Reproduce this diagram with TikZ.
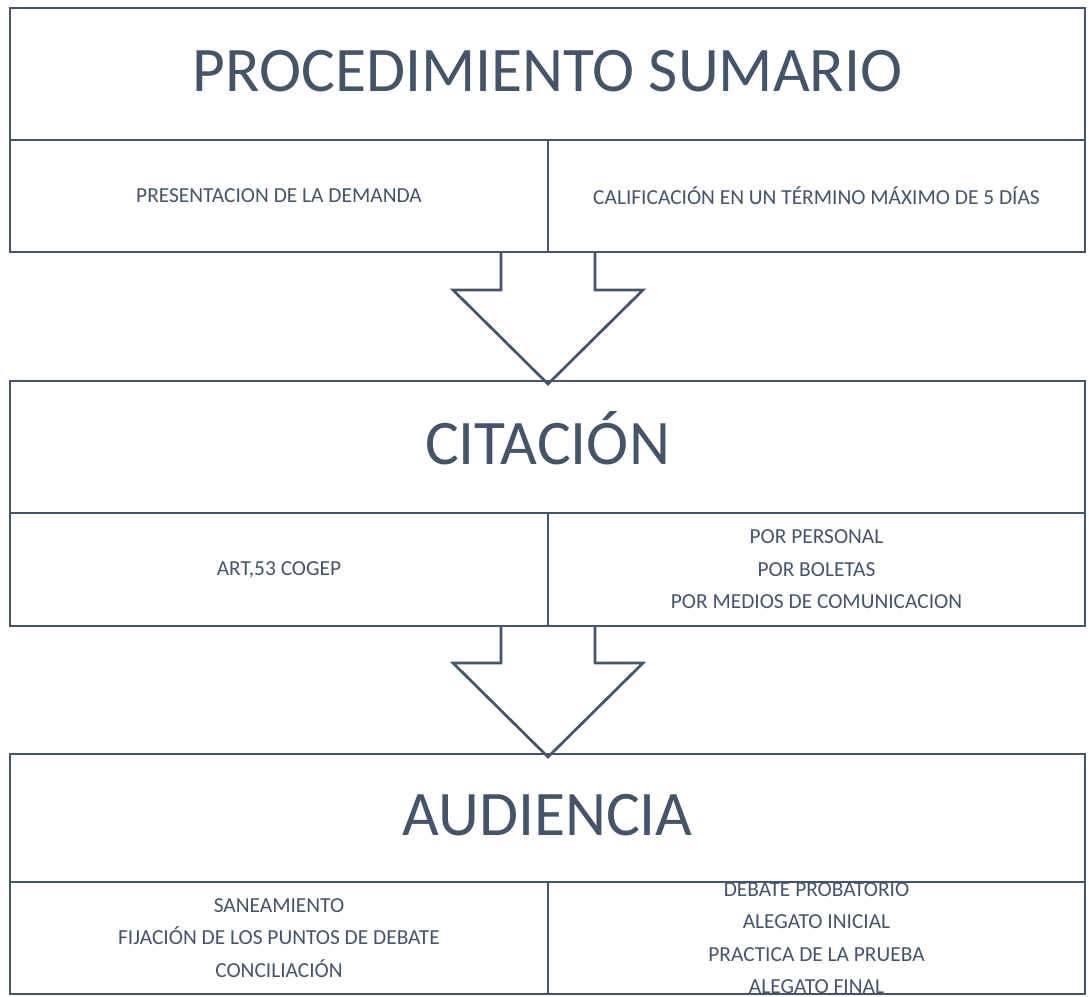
\documentclass[tikz,border=0pt]{standalone}
\usepackage{fontspec}
\setmainfont{Carlito}
\usetikzlibrary{calc}
\definecolor{slate}{HTML}{44546A}
\tikzset{
  cellshape/.style={rectangle, inner sep=0pt, outer sep=0pt, text=slate},
  cell/.style={cellshape, draw=slate, line width=2.7pt},
  titlecell/.style={cell, font=\fontsize{63.5}{76}\selectfont, text height=40pt, text depth=5pt},
  smallcell/.style={cell, font=\fontsize{21.4}{32.5}\selectfont, align=center},
  smalltext/.style={text=slate, font=\fontsize{21.4}{32.5}\selectfont, align=center, inner sep=0pt},
  blockarrow/.style={draw=slate, line width=2.7pt, line join=miter},
}
\begin{document}
\begin{tikzpicture}[x=1pt,y=-1pt]
\useasboundingbox (0,0) rectangle (1089,996);

% ---------- arrows (drawn first, boxes on top) ----------
\coordinate (a1) at (548,252);
\coordinate (a2) at (548,626);
\fill[white] ($(a1)+(-47,0)$) -- ($(a1)+(-47,38)$) -- ($(a1)+(-95,38)$) -- ($(a1)+(0,132)$) -- ($(a1)+(95,38)$) -- ($(a1)+(47,38)$) -- ($(a1)+(47,0)$) -- cycle;
\draw[blockarrow] ($(a1)+(-47,0)$) -- ($(a1)+(-47,38)$) -- ($(a1)+(-95,38)$) -- ($(a1)+(0,132)$) -- ($(a1)+(95,38)$) -- ($(a1)+(47,38)$) -- ($(a1)+(47,0)$);
\fill[white] ($(a2)+(-47,0)$) -- ($(a2)+(-47,37)$) -- ($(a2)+(-95,37)$) -- ($(a2)+(0,131)$) -- ($(a2)+(95,37)$) -- ($(a2)+(47,37)$) -- ($(a2)+(47,0)$) -- cycle;
\draw[blockarrow] ($(a2)+(-47,0)$) -- ($(a2)+(-47,37)$) -- ($(a2)+(-95,37)$) -- ($(a2)+(0,131)$) -- ($(a2)+(95,37)$) -- ($(a2)+(47,37)$) -- ($(a2)+(47,0)$);

% ---------- box 1 ----------
\node[titlecell, minimum width=1075pt, minimum height=132pt] (t1) at (547.5,74) {PROCEDIMIENTO SUMARIO};
\node[smallcell, minimum width=538pt, minimum height=112pt] (l1) at (279,196) {PRESENTACION DE LA DEMANDA};
\node[smallcell, minimum width=537pt, minimum height=112pt] (r1) at (816.5,196) {CALIFICACIÓN EN UN TÉRMINO MÁXIMO DE 5 DÍAS};

% ---------- box 2 ----------
\node[titlecell, minimum width=1075pt, minimum height=132pt] (t2) at (547.5,447) {CITACIÓN};
\node[smallcell, minimum width=538pt, minimum height=113pt] (l2) at (279,569.5) {ART,53 COGEP};
\node[smallcell, minimum width=537pt, minimum height=113pt] (r2) at (816.5,569.5) {POR PERSONAL\\POR BOLETAS\\POR MEDIOS DE COMUNICACION};

% ---------- box 3 ----------
\node[titlecell, minimum width=1075pt, minimum height=128pt] (t3) at (547.5,818) {AUDIENCIA};
\node[smallcell, minimum width=538pt, minimum height=112pt] (l3) at (279,938) {SANEAMIENTO\\FIJACIÓN DE LOS PUNTOS DE DEBATE\\CONCILIACIÓN};
\node[cellshape, minimum width=537pt, minimum height=112pt] (r3) at (816.5,938) {};
\begin{scope}
  \clip ($(r3.north west)+(0,1.35)$) rectangle ($(r3.south east)+(0,-1.35)$);
  \node[smalltext] (r3t) at (r3.center) {DEBATE PROBATORIO\\ALEGATO INICIAL\\PRACTICA DE LA PRUEBA\\ALEGATO FINAL};
\end{scope}
\draw[slate, line width=2.7pt] (r3.north west) rectangle (r3.south east);
\end{tikzpicture}
\end{document}
